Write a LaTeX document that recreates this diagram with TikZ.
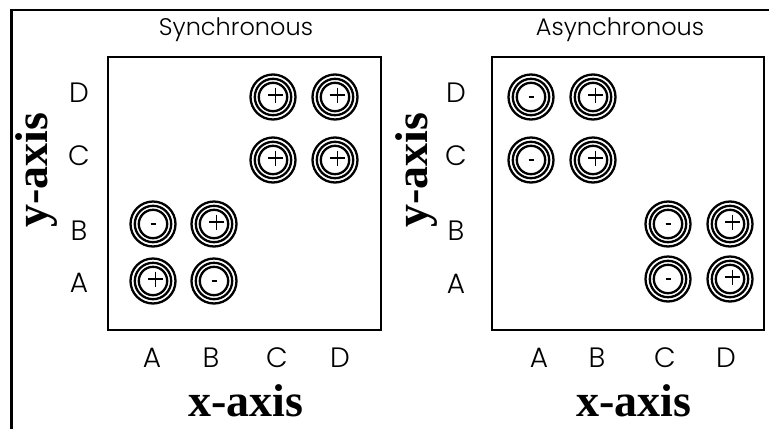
\documentclass[tikz,border=0pt]{standalone}
\usepackage{fontspec}
\setmainfont{Liberation Serif}
\newfontfamily\gothic{Poppins}[UprightFont=* Light]
\usetikzlibrary{calc}
\tikzset{
  ring/.style={circle,draw,line width=2.3pt,minimum size=45pt,inner sep=0pt},
  ringline/.style={line width=2.3pt},
  signline/.style={line width=1.1pt},
  panelbox/.style={draw,line width=1.8pt},
  frameline/.style={line width=2.8pt},
  lettr/.style={font=\gothic\fontsize{28}{28}\selectfont,anchor=base},
  ttl/.style={font=\gothic\fontsize{24}{24}\selectfont,anchor=base},
  axislbl/.style={font=\bfseries\fontsize{46}{46}\selectfont,anchor=base}
}
\newcommand{\ringat}[4]{%
  \node[ring] (#1) at (#2,#3) {};
  \draw[ringline] (#1.center) circle (18.2pt) (#1.center) circle (14.2pt);
  \ifx+#4
    \draw[signline] ($(#1.center)+(-5,-2)$) -- ($(#1.center)+(10,-2)$)
                    ($(#1.center)+(2.5,-9.5)$) -- ($(#1.center)+(2.5,5.5)$);
  \else
    \draw[signline] ($(#1.center)+(-2.5,0)$) -- ($(#1.center)+(2.5,0)$);
  \fi
}
\begin{document}
\begin{tikzpicture}[x=1pt,y=-1pt]
\useasboundingbox (0,0) rectangle (769,429);
% outer frame
\coordinate (fa) at (11.5,429);
\coordinate (fb) at (11.5,10);
\coordinate (fc) at (769,10);
\draw[frameline] (fa) -- (fb) -- (fc);
% panels
\node[panelbox,minimum width=273pt,minimum height=273pt,inner sep=0pt] (boxS) at (244.5,193.5) {};
\node[panelbox,minimum width=272pt,minimum height=273pt,inner sep=0pt] (boxA) at (628,193.5) {};
% titles
\node[ttl] (tS) at (236,35) {Synchronous};
\node[ttl] (tA) at (620,35) {Asynchronous};
% synchronous rings
\ringat{sAA}{153}{281}{+}
\ringat{sBA}{214}{281}{-}
\ringat{sAB}{153}{224}{-}
\ringat{sBB}{214}{224}{+}
\ringat{sCC}{273}{160}{+}
\ringat{sDC}{335}{160}{+}
\ringat{sCD}{273}{97}{+}
\ringat{sDD}{335}{97}{+}
% asynchronous rings
\ringat{aAD}{531}{97}{-}
\ringat{aBD}{593}{97}{+}
\ringat{aAC}{531}{160}{-}
\ringat{aBC}{593}{160}{+}
\ringat{aCB}{668}{224}{-}
\ringat{aDB}{730}{224}{+}
\ringat{aCA}{668}{279}{-}
\ringat{aDA}{730}{279}{+}
% y letters
\node[lettr] (syD) at (79,102) {D};
\node[lettr] (syC) at (79,165) {C};
\node[lettr] (syB) at (79,240) {B};
\node[lettr] (syA) at (79,292) {A};
\node[lettr] (ayD) at (456,102) {D};
\node[lettr] (ayC) at (456,165) {C};
\node[lettr] (ayB) at (456,240) {B};
\node[lettr] (ayA) at (456,293) {A};
% x letters
\node[lettr] (sxA) at (152,367) {A};
\node[lettr] (sxB) at (211,367) {B};
\node[lettr] (sxC) at (277,367) {C};
\node[lettr] (sxD) at (340,367) {D};
\node[lettr] (axA) at (539,367) {A};
\node[lettr] (axB) at (597,367) {B};
\node[lettr] (axC) at (665,367) {C};
\node[lettr] (axD) at (726,367) {D};
% axis labels
\node[axislbl] (sx) at (246,416) {x-axis};
\node[axislbl] (ax) at (634,416) {x-axis};
\node[axislbl,rotate=90] (sy) at (47,170) {y-axis};
\node[axislbl,rotate=90] (ay) at (427,170) {y-axis};
\end{tikzpicture}
\end{document}
